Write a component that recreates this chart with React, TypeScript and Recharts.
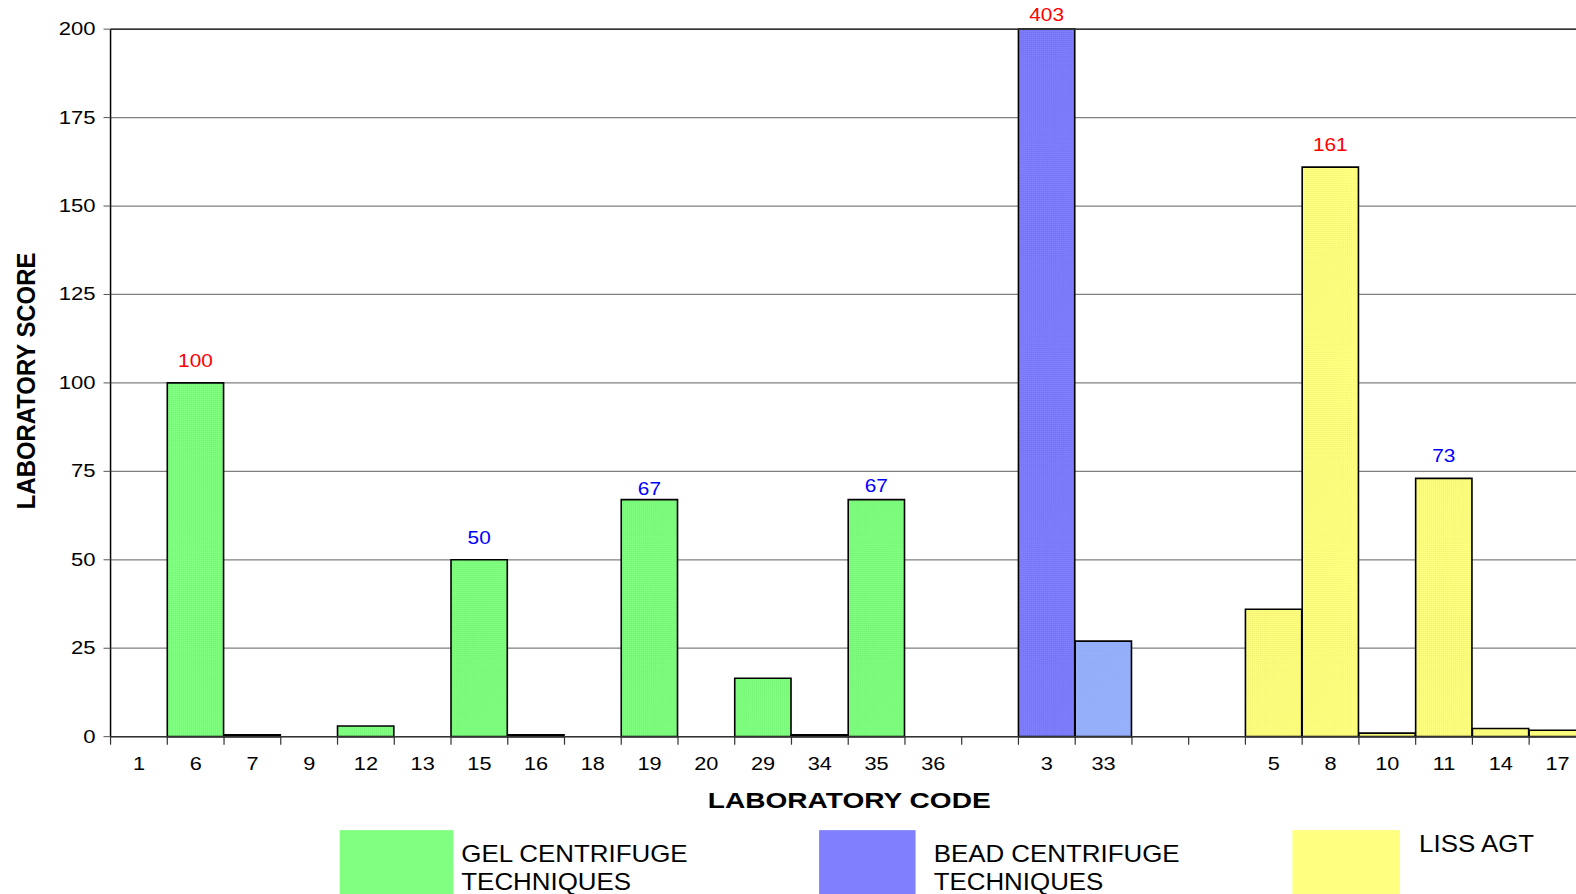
import React from 'react';
import { BarChart, Bar, XAxis, YAxis, CartesianGrid, Cell, LabelList, ReferenceLine } from 'recharts';

// Values
const gelCodes = ['1', '6', '7', '9', '12', '13', '15', '16', '18', '19', '20', '29', '34', '35', '36'];
const gelScores = [0, 100, 0.5, 0, 3, 0, 50, 0.5, 0, 67, 0, 16.5, 0.5, 67, 0];
const gelLabelColors = [null, '#ff0000', null, null, null, null, '#0000ff', null, null, '#0000ff', null, null, null, '#0000ff', null];

const beadCodes = ['3', '33'];
const beadScores = [403, 27];
const beadLabelColors = ['#ff0000', null];

const lissCodes = ['5', '8', '10', '11', '14', '17'];
const lissScores = [36, 161, 1, 73, 2.3, 1.8];
const lissLabelColors = [null, '#ff0000', null, '#0000ff', null, null];

const yTicks = [0, 25, 50, 75, 100, 125, 150, 175, 200];
const Y_MAX = 200;

const FILLS = {
  gel: 'url(#pat-gel)',
  bead: 'url(#pat-bead)',
  beadLight: 'url(#pat-bead-light)',
  liss: 'url(#pat-liss)',
};

// the two "67" labels sit a bit closer to their bars in the original
const LABEL_NUDGE: Record<string, number> = { g19: 11, g35: 8 };

type Row = { key: string; code: string; score: number | null; plotted: number | null; fill: string; labelColor: string | null };

const gap = (k: string): Row => ({ key: k, code: '', score: null, plotted: null, fill: 'none', labelColor: null });

const data: Row[] = [
  ...gelCodes.map((c, i) => ({ key: 'g' + c, code: c, score: gelScores[i], plotted: Math.min(gelScores[i], Y_MAX), fill: FILLS.gel, labelColor: gelLabelColors[i] })),
  gap('gap1'),
  ...beadCodes.map((c, i) => ({ key: 'b' + c, code: c, score: beadScores[i], plotted: Math.min(beadScores[i], Y_MAX), fill: i === 0 ? FILLS.bead : FILLS.beadLight, labelColor: beadLabelColors[i] })),
  gap('gap2'),
  gap('gap3'),
  ...lissCodes.map((c, i) => ({ key: 'l' + c, code: c, score: lissScores[i], plotted: Math.min(lissScores[i], Y_MAX), fill: FILLS.liss, labelColor: lissLabelColors[i] })),
];

const W = 1580;
const H = 780;
const LEFT = 110;
const RIGHT = 2;
const BAND = (W - LEFT - RIGHT) / data.length;
const FONT = '"Liberation Sans", Arial, sans-serif';

const XTick = (props: any) => {
  const { x, y, payload } = props;
  const bx = x - BAND / 2;
  const row = data.find((r) => r.key === payload.value);
  return (
    <g>
      <line x1={bx} x2={bx} y1={y - 8} y2={y} stroke="#333" strokeWidth={1.2} />
      <text transform={`translate(${x},${y + 25}) scale(1.2,1)`} textAnchor="middle" fontSize={18} fontFamily={FONT} fill="#000">
        {row ? row.code : ''}
      </text>
    </g>
  );
};

const YTick = (props: any) => {
  const { x, y, payload } = props;
  return (
    <text transform={`translate(${x},${y + 6}) scale(1.22,1)`} textAnchor="end" fontSize={18} fontFamily={FONT} fill="#000">
      {payload.value}
    </text>
  );
};

const ValueLabel = (props: any) => {
  const { x, y, width, value } = props;
  const row = data.find((r) => r.key === value) || data.find((r) => r.key === props.payload?.key);
  if (!row || !row.labelColor) return null;
  const ty = Math.max(y - 16 + (LABEL_NUDGE[row.key] || 0), 21);
  return (
    <text transform={`translate(${x + width / 2},${ty}) scale(1.15,1)`} textAnchor="middle" fontSize={18} fontFamily={FONT} fill={row.labelColor}>
      {row.score}
    </text>
  );
};

const pattern = (id: string, base: string, dot: string) => (
  <pattern id={id} width={2} height={2} patternUnits="userSpaceOnUse">
    <rect width={2} height={2} fill={base} />
    <rect width={1} height={1} fill={dot} />
  </pattern>
);

const LegendItem = ({ left, boxW, textLeft, color, lines, textTop }: any) => (
  <>
    <div style={{ position: 'absolute', left, top: 826, width: boxW, height: 68, background: color }} />
    <div
      style={{
        position: 'absolute',
        left: textLeft,
        top: textTop,
        fontSize: 23,
        lineHeight: '28px',
        color: '#000',
        whiteSpace: 'nowrap',
        transform: 'scaleX(1.12)',
        transformOrigin: 'left top',
      }}
    >
      {lines.map((l: string) => (
        <div key={l}>{l}</div>
      ))}
    </div>
  </>
);

export default function App() {
  return (
    <div
      style={{
        position: 'fixed',
        left: 0,
        top: 0,
        width: 1576,
        height: 894,
        overflow: 'hidden',
        background: '#fff',
        fontFamily: FONT,
        transform: 'scale(1.005)',
        transformOrigin: '0 0',
      }}
    >
      <BarChart width={W} height={H} data={data} margin={{ top: 29, right: RIGHT, left: 0, bottom: 7 }} barCategoryGap={0} barGap={0}>
        <defs>
          {pattern('pat-gel', '#80ff80', '#70ee70')}
          {pattern('pat-bead', '#8080ff', '#7070ee')}
          {pattern('pat-bead-light', '#99b3ff', '#8aa4f0')}
          {pattern('pat-liss', '#ffff80', '#eeee70')}
        </defs>
        <CartesianGrid vertical={false} stroke="#808080" strokeWidth={1.2} />
        <XAxis
          dataKey="key"
          interval={0}
          tick={<XTick />}
          tickSize={8}
          tickMargin={0}
          tickLine={false}
          height={40}
          axisLine={{ stroke: '#333', strokeWidth: 1.5 }}
        />
        <YAxis
          width={LEFT}
          domain={[0, Y_MAX]}
          ticks={yTicks}
          interval={0}
          tickSize={7}
          tickMargin={8}
          tickLine={{ stroke: '#555' }}
          axisLine={{ stroke: '#000', strokeWidth: 1.5 }}
          tick={<YTick />}
        />
        <ReferenceLine y={Y_MAX} stroke="#333" strokeWidth={1.5} />
        <Bar dataKey="plotted" stroke="#000" strokeWidth={1.6} isAnimationActive={false}>
          {data.map((d) => (
            <Cell key={d.key} fill={d.fill} />
          ))}
          <LabelList dataKey="key" content={<ValueLabel />} />
        </Bar>
      </BarChart>

      <div
        style={{
          position: 'absolute',
          left: 26,
          top: 379,
          transform: 'translate(-50%, -50%) rotate(-90deg) scale(1.08, 1.2)',
          fontSize: 22,
          fontWeight: 'bold',
          whiteSpace: 'nowrap',
          color: '#000',
        }}
      >
        LABORATORY SCORE
      </div>
      <div
        style={{
          position: 'absolute',
          left: 845,
          top: 797,
          transform: 'translate(-50%, -50%) scaleX(1.27)',
          fontSize: 22,
          fontWeight: 'bold',
          whiteSpace: 'nowrap',
          color: '#000',
        }}
      >
        LABORATORY CODE
      </div>

      <LegendItem left={338} boxW={113} textLeft={459} textTop={836} color="#80ff80" lines={['GEL CENTRIFUGE', 'TECHNIQUES']} />
      <LegendItem left={815} boxW={96} textLeft={929} textTop={836} color="#8080ff" lines={['BEAD CENTRIFUGE', 'TECHNIQUES']} />
      <LegendItem left={1286} boxW={107} textLeft={1412} textTop={826} color="#ffff80" lines={['LISS AGT']} />
    </div>
  );
}
